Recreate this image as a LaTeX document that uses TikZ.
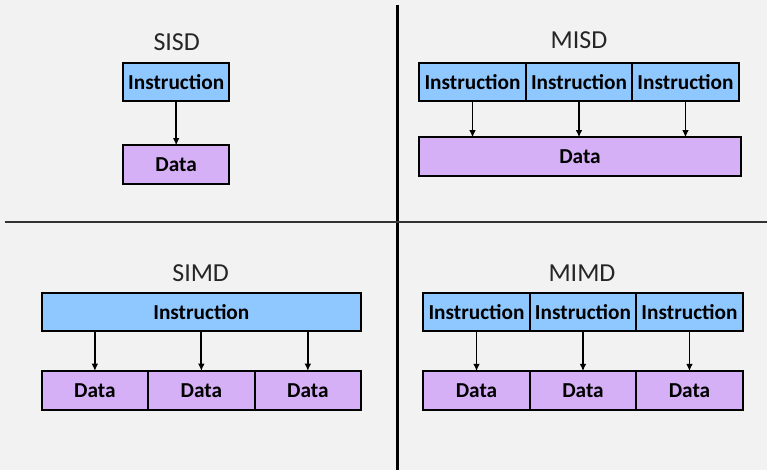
\documentclass[tikz,border=0pt]{standalone}
\usepackage{fontspec}
\setmainfont{Carlito}
\usepackage{tikz}
\usetikzlibrary{arrows.meta,positioning}
\definecolor{bgc}{RGB}{242,242,242}
\definecolor{instc}{RGB}{143,199,255}
\definecolor{datc}{RGB}{214,176,246}

\begin{document}
\begin{tikzpicture}[
  x=0.75pt,y=-0.75pt,
  box/.style={draw,line width=1.5pt,outer sep=0pt,inner sep=0pt,minimum height=29pt,font=\fontsize{16}{19}\selectfont\bfseries},
  inst/.style={box,fill=instc,minimum width=80pt},
  dat/.style={box,fill=datc,minimum width=80pt},
  ttl/.style={font=\fontsize{19.5}{23}\selectfont,text=black!85},
  ar/.style={line width=1.3pt,-{Latex[length=5.5pt,width=5pt]}},
  sep/.style={line width=2pt}
]
\fill[bgc] (0,0) rectangle (768,471);
\draw[sep] (398,5) -- (398,471);
\draw[sep,black!80] (5,222.5) -- (768,222.5);

% SISD
\node[ttl] (t1) at (177,42) {SISD};
\node[inst] (sI) at (176.5,82) {Instruction};
\node[dat] (sD) at (176.5,165) {Data};
\draw[ar] (sI) -- (sD);

% MISD
\node[ttl] (t2) at (580,40) {MISD};
\node[inst,anchor=west] (mI1) at (420,82) {Instruction};
\node[inst,right=0pt of mI1] (mI2) {Instruction};
\node[inst,right=0pt of mI2] (mI3) {Instruction};
\node[dat,minimum width=242pt] (mD) at (581,157) {Data};
\draw[ar] (mI1) -- (mI1 |- mD.north); \draw[ar] (mI2) -- (mI2 |- mD.north); \draw[ar] (mI3) -- (mI3 |- mD.north);

% SIMD
\node[ttl] (t3) at (201,274) {SIMD};
\node[inst,minimum width=240pt] (dI) at (201.7,312.5) {Instruction};
\node[dat,anchor=west] (dD1) at (41.7,391) {Data};
\node[dat,right=0pt of dD1] (dD2) {Data};
\node[dat,right=0pt of dD2] (dD3) {Data};
\draw[ar] (dD1 |- dI.south) -- (dD1); \draw[ar] (dD2 |- dI.south) -- (dD2); \draw[ar] (dD3 |- dI.south) -- (dD3);

% MIMD
\node[ttl] (t4) at (583,274) {MIMD};
\node[inst,anchor=west] (pI1) at (424,312.5) {Instruction};
\node[inst,right=0pt of pI1] (pI2) {Instruction};
\node[inst,right=0pt of pI2] (pI3) {Instruction};
\node[dat,below=30pt of pI1] (pD1) {Data};
\node[dat,right=0pt of pD1] (pD2) {Data};
\node[dat,right=0pt of pD2] (pD3) {Data};
\draw[ar] (pI1) -- (pD1); \draw[ar] (pI2) -- (pD2); \draw[ar] (pI3) -- (pD3);
\end{tikzpicture}
\end{document}
